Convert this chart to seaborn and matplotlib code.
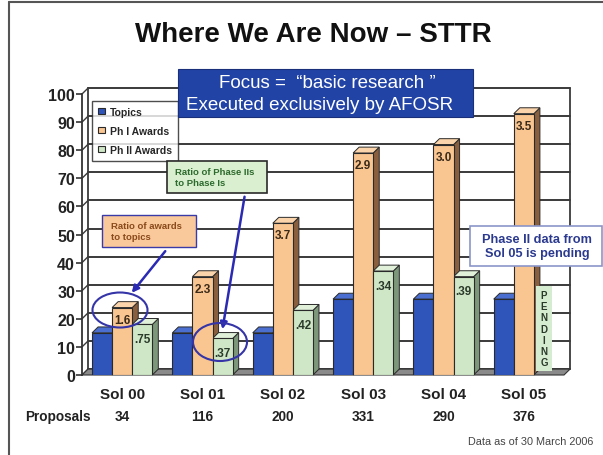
import numpy as np
import pandas as pd
import matplotlib
matplotlib.use("Agg")
import matplotlib.pyplot as plt
from matplotlib.patches import Rectangle, Polygon, Ellipse, FancyArrowPatch
import matplotlib.transforms as mtrans
import seaborn as sns

# ---------------- data ----------------
solicitations = ["Sol 00", "Sol 01", "Sol 02", "Sol 03", "Sol 04", "Sol 05"]
series_names = ["Topics", "Ph I Awards", "Ph II Awards"]
topics = [15, 15, 15, 27, 27, 27]
ph1_awards = [24, 35, 54, 79, 82, 93]
ph2_awards = [18, 13, 23, 37, 35, None]          # Sol 05 pending
ph1_ratio_labels = ["1.6", "2.3", "3.7", "2.9", "3.0", "3.5"]
ph2_ratio_labels = [".75", ".37", ".42", ".34", ".39"]
proposals = [34, 116, 200, 331, 290, 376]
y_ticks = list(range(0, 101, 10))

W, H = 603, 456
def fx(px): return px / W
def fy(py): return 1 - py / H

sns.set_theme(style="white")
plt.rcParams["font.family"] = ["Liberation Sans", "DejaVu Sans"]

rows = []
for i, s in enumerate(solicitations):
    for name, vals in zip(series_names, [topics, ph1_awards, ph2_awards]):
        if vals[i] is not None:
            rows.append({"sol": s, "series": name, "value": vals[i]})
df = pd.DataFrame(rows)

colors = ["#2f55bb", "#f9c590", "#cfe7c6"]
side_colors = ["#1d3580", "#8a5f3d", "#7c977a"]
top_colors = ["#4a6fd0", "#fbd4ab", "#e0f0d9"]

fig = plt.figure(figsize=(W / 100, H / 100), dpi=100)
ax = fig.add_axes([fx(82), fy(376), (564 - 82) / W, (376 - 95) / H])

sns.barplot(data=df, x="sol", y="value", hue="series", order=solicitations,
            hue_order=series_names, palette=colors, width=0.75, saturation=1,
            edgecolor="#2a2a2a", linewidth=0.8, ax=ax, zorder=3)

ax.set_xlim(-0.5, 5.5)
ax.set_ylim(0, 100)
ax.set_yticks(y_ticks)
ax.set_xlabel("")
ax.set_ylabel("")
for s in ["top", "right", "bottom"]:
    ax.spines[s].set_visible(False)
ax.spines["left"].set_color("#333333")
ax.spines["left"].set_linewidth(1.3)
ax.tick_params(axis="y", length=4, width=1.2, color="#333333", pad=1,
               labelsize=11.5, labelcolor="#222222", left=True)
for t in ax.get_yticklabels():
    t.set_fontweight("bold")
ax.tick_params(axis="x", length=0, pad=9, labelsize=11, labelcolor="#222222")
for t in ax.get_xticklabels():
    t.set_fontweight("bold")

# 3D depth in data units
dx, dy = 0.075, 2.1

# back wall grid
for yv in y_ticks:
    ax.plot([-0.5 + dx, 5.5 + dx], [yv + dy, yv + dy], color="#3a3a3a", lw=1.4,
            zorder=0.5, clip_on=False)
    ax.plot([-0.5, -0.5 + dx], [yv, yv + dy], color="#3a3a3a", lw=1.0,
            zorder=0.5, clip_on=False)
ax.plot([-0.5 + dx, -0.5 + dx], [dy, 100 + dy], color="#3a3a3a", lw=1.3, zorder=0.5, clip_on=False)
ax.plot([5.5 + dx, 5.5 + dx], [dy, 100 + dy], color="#3a3a3a", lw=1.3, zorder=0.5, clip_on=False)
# floor
ax.add_patch(Polygon([(-0.5, 0), (5.5, 0), (5.5 + dx, dy), (-0.5 + dx, dy)],
                     closed=True, facecolor="#8a8a8a", edgecolor="#333333", lw=0.8,
                     zorder=1, clip_on=False))

# 3D faces on the bars
for ci, cont in enumerate(ax.containers):
    for bar in cont:
        h = bar.get_height()
        if not np.isfinite(h) or h <= 0:
            continue
        x0 = bar.get_x(); w = bar.get_width()
        side = Polygon([(x0 + w, 0), (x0 + w + dx, dy), (x0 + w + dx, h + dy), (x0 + w, h)],
                       closed=True, facecolor=side_colors[ci], edgecolor="#2a2a2a",
                       lw=0.7, zorder=2.9, clip_on=False)
        top = Polygon([(x0, h), (x0 + dx, h + dy), (x0 + w + dx, h + dy), (x0 + w, h)],
                      closed=True, facecolor=top_colors[ci], edgecolor="#2a2a2a",
                      lw=0.7, zorder=2.9, clip_on=False)
        ax.add_patch(side); ax.add_patch(top)

# ratio labels in bars
ax.bar_label(ax.containers[1], labels=ph1_ratio_labels, padding=-13, fontsize=8.5,
             fontweight="bold", color="#3a2a1a", zorder=5)
ax.bar_label(ax.containers[2], labels=ph2_ratio_labels, padding=-15, fontsize=8.5,
             fontweight="bold", color="#2a3a2a", zorder=5)

# pending placeholder
ax.text(5.25, 16.5, "P\nE\nN\nD\nI\nN\nG", ha="center", va="center", fontsize=7,
        fontweight="bold", color="#2a3a2a", linespacing=1.15, zorder=5,
        bbox=dict(boxstyle="square,pad=0.4", facecolor="#d6ecd0", edgecolor="none"))

# legend
sns.move_legend(ax, "upper left", bbox_to_anchor=(0.01, 0.995), title=None,
                frameon=True, fancybox=False, prop={"weight": "bold", "size": 7.5},
                handlelength=0.6, handleheight=0.6, handletextpad=0.5,
                labelspacing=0.85, borderpad=0.6, edgecolor="#222222")
leg = ax.get_legend()
leg.get_frame().set_linewidth(1.0)
leg.set_zorder(6)

# proposals row
fig.text(fx(25), fy(417), "Proposals", ha="left", va="center", fontsize=9.8,
         fontweight="bold", color="#222222")
row_tr = mtrans.blended_transform_factory(ax.transData, fig.transFigure)
for i, p in enumerate(proposals):
    ax.text(i, fy(417), str(p), transform=row_tr, ha="center", va="center",
            fontsize=9.8, fontweight="bold", color="#222222")

# title and frame
fig.text(0.52, fy(35), "Where We Are Now \u2013 STTR", ha="center", va="center",
         fontsize=20, fontweight="bold", color="#111111")
fig.add_artist(plt.Line2D([fx(9), fx(9)], [fy(3), 0], color="#555555", lw=1.5))
fig.add_artist(plt.Line2D([fx(9), 1], [fy(3), fy(3)], color="#555555", lw=1.5))

# focus box
fig.add_artist(Rectangle((fx(178), fy(118)), fx(473) - fx(178), fy(70) - fy(118),
                         transform=fig.transFigure, facecolor="#2243a6",
                         edgecolor="#1a2f7a", lw=0.8, zorder=7))
fig.text(fx(327), fy(83), "Focus =  \u201cbasic research \u201d", ha="center", va="center",
         fontsize=13.5, color="white", zorder=8)
fig.text(fx(320), fy(105), "Executed exclusively by AFOSR", ha="center", va="center",
         fontsize=13.5, color="white", zorder=8)

# annotation boxes
fig.add_artist(Rectangle((fx(102), fy(248)), fx(196) - fx(102), fy(216) - fy(248),
                         transform=fig.transFigure, facecolor="#f9c89b",
                         edgecolor="#3a3aa8", lw=1.0, zorder=7))
fig.text(fx(111), fy(232), "Ratio of awards\nto topics", ha="left", va="center",
         fontsize=6.8, fontweight="bold", color="#8a4a1a", linespacing=1.35, zorder=8)

fig.add_artist(Rectangle((fx(167), fy(194)), fx(267) - fx(167), fy(162) - fy(194),
                         transform=fig.transFigure, facecolor="#d9efd0",
                         edgecolor="#2a2a2a", lw=1.2, zorder=7))
fig.text(fx(175), fy(178), "Ratio of Phase IIs\nto Phase Is", ha="left", va="center",
         fontsize=6.8, fontweight="bold", color="#2d6a2d", linespacing=1.35, zorder=8)

fig.add_artist(Rectangle((fx(470), fy(267)), fx(602) - fx(470), fy(227) - fy(267),
                         transform=fig.transFigure, facecolor="white",
                         edgecolor="#8a96c8", lw=1.2, zorder=7))
fig.text(fx(537), fy(247), "Phase II data from\nSol 05 is pending", ha="center", va="center",
         fontsize=9.2, fontweight="bold", color="#2b3a8f", linespacing=1.2, zorder=8)

# arrows and ellipses
for (x1, y1, x2, y2) in [(167, 250, 130, 296), (245, 195, 222, 333)]:
    fig.add_artist(FancyArrowPatch((fx(x1), fy(y1)), (fx(x2), fy(y2)),
                                   transform=fig.transFigure, arrowstyle="-|>",
                                   mutation_scale=10, color="#2a2ab5", lw=1.8, zorder=8))
for (cx, cy, ew, eh) in [(120, 311, 55, 35), (220, 343, 54, 38)]:
    fig.add_artist(Ellipse((fx(cx), fy(cy)), ew / W, eh / H, transform=fig.transFigure,
                           facecolor="none", edgecolor="#3535a8", lw=1.5, zorder=8))

fig.text(fx(593), fy(442), "Data as of 30 March 2006", ha="right", va="center",
         fontsize=7.8, color="#444444")

fig.savefig("out.png", dpi=100)
